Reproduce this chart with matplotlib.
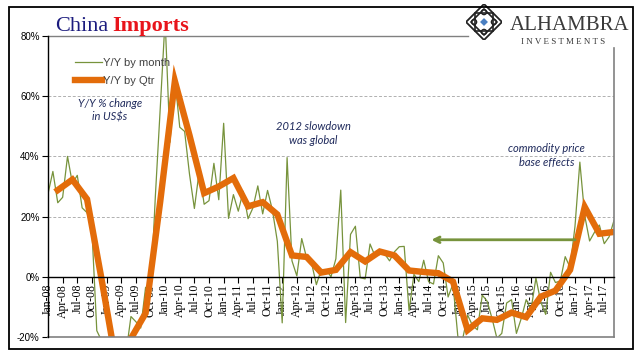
import matplotlib.pyplot as plt
import numpy as np
from matplotlib.patches import Polygon, Rectangle, Circle

# monthly Y/Y % change, Jan-08 .. Sep-17
monthly = [27.6, 35.0, 24.6, 26.4, 40.0, 31.0, 33.7, 22.9, 21.3, 15.6, -17.9, -21.3,
           -43.1, -24.1, -25.1, -23.0, -25.2, -13.2, -14.9, -17.0, -3.5, -6.4, 26.7, 55.9,
           85.5, 44.7, 66.0, 49.7, 48.3, 34.1, 22.7, 35.2, 24.1, 25.3, 37.7, 25.6,
           51.0, 19.4, 27.3, 21.8, 28.4, 19.3, 22.9, 30.2, 20.9, 28.7, 22.1, 11.8,
           -15.3, 39.6, 5.3, 0.3, 12.7, 6.3, 4.7, -2.6, 2.4, 2.4, 0.0, 6.0,
           28.8, -15.2, 14.1, 16.8, -0.3, -0.7, 10.9, 7.0, 7.4, 7.6, 5.3, 8.3,
           10.0, 10.1, -11.3, 0.8, -1.6, 5.5, -1.6, -2.4, 7.0, 4.6, -6.7, -2.4,
           -19.9, -20.5, -12.7, -16.2, -17.6, -6.1, -8.1, -13.8, -20.4, -18.8, -8.7, -7.6,
           -18.8, -13.8, -7.6, -10.9, -0.4, -8.4, -12.5, 1.5, -1.9, -1.4, 6.7, 3.1,
           16.7, 38.1, 20.3, 11.9, 14.8, 17.2, 11.0, 13.3, 18.7]

# quarterly Y/Y % change, Q1-08 .. Q3-17 (plotted at quarter-end month)
quarterly = [28.8, 32.3, 25.8, -1.0,
             -29.0, -20.5, -12.1, 25.0,
             65.0, 47.0, 27.8, 30.0,
             32.8, 23.4, 24.8, 20.7,
             7.1, 6.6, 1.4, 2.3,
             8.2, 5.1, 8.4, 7.1,
             2.1, 1.6, 1.2, -1.6,
             -17.7, -13.8, -14.3, -11.9,
             -13.4, -6.6, -4.6, 2.3,
             23.2, 14.3, 14.9]

years = ['08', '09', '10', '11', '12', '13', '14', '15', '16', '17']
qtr_months = ['Jan', 'Apr', 'Jul', 'Oct']
tick_labels = [m + '-' + y for y in years for m in qtr_months][:39]
ytick_vals = [-20, 0, 20, 40, 60, 80]
ytick_labels = ['-20%', '0%', '20%', '40%', '60%', '80%']

green = '#77933C'
orange = '#E36C0A'
navy = '#1F2A5C'

x_m = np.arange(len(monthly))
x_q = np.arange(2, len(monthly), 3)

fig = plt.figure(figsize=(6.41, 3.61), dpi=100)
ax = fig.add_axes([48 / 641, 24 / 361, 566 / 641, 301 / 361])

ax.plot(x_m, monthly, color=green, lw=0.9, label='Y/Y by month')
ax.plot(x_q, quarterly, color=orange, lw=4.6, solid_joinstyle='miter', label='Y/Y by Qtr')

ax.set_xlim(0, len(monthly) - 1)
ax.set_ylim(-20, 80)

for v in [20, 40, 60]:
    ax.axhline(v, color='#b0b0b0', lw=0.7, ls=(0, (3, 2)), zorder=0)

ax.spines['top'].set_visible(False)
ax.spines['right'].set_visible(False)
ax.spines['bottom'].set_position(('data', 0))
ax.spines['bottom'].set_linewidth(1.0)
ax.spines['left'].set_linewidth(1.0)
ax.plot([0, 1], [0, 0], transform=ax.transAxes, color='#808080', lw=1.2, clip_on=False)
ax.plot([0, 0.742], [1, 1], transform=ax.transAxes, color='#808080', lw=1.0, clip_on=False)
ax.plot([1, 1], [0, 0.96], transform=ax.transAxes, color='#808080', lw=1.2, clip_on=False)

ax.set_yticks(ytick_vals, ytick_labels, fontsize=7, fontfamily='Liberation Sans')
ax.set_xticks(np.arange(0, len(monthly), 3), tick_labels, rotation=90,
              fontsize=8.5, fontfamily='Liberation Serif')
ax.tick_params(axis='x', direction='out', length=4, width=0.8, pad=1)
ax.tick_params(axis='y', direction='out', length=4, width=0.8, pad=2)

leg = ax.legend(loc='upper left', bbox_to_anchor=(0.03, 0.96), frameon=False,
                handlelength=2.4, handletextpad=0.1, labelspacing=0.75,
                prop={'family': 'Liberation Sans', 'size': 8})
for t in leg.get_texts():
    t.set_color('#404040')

ax.text(12.7, 55.3, 'Y/Y % change\nin US$s', ha='center', va='center', fontsize=8,
        style='italic', color=navy, fontfamily='Lato', linespacing=1.3)
ax.text(54.4, 47.5, '2012 slowdown\nwas global', ha='center', va='center', fontsize=8,
        style='italic', color=navy, fontfamily='Lato', linespacing=1.3)
ax.text(102.2, 40.3, 'commodity price\nbase effects', ha='center', va='center', fontsize=8,
        style='italic', color=navy, fontfamily='Lato', linespacing=1.3)
ax.annotate('', xy=(78.0, 12.3), xytext=(108.6, 12.3),
            arrowprops=dict(arrowstyle='->', color=green, lw=2, mutation_scale=10))

# title
t1 = fig.text(55 / 641, 1 - 31 / 361, 'China', fontsize=16, color='#1B1B7E',
              fontfamily='Liberation Serif', va='baseline')
fig.canvas.draw()
bb = t1.get_window_extent()
fig.text((bb.x1 + 4) / 641, 1 - 31 / 361, 'Imports', fontsize=16, color='#E8141B',
         fontfamily='Liberation Serif', fontweight='bold', va='baseline')

# logo
fig.text(510 / 641, 1 - 30 / 361, 'ALHAMBRA', fontsize=15, color='#3a3a3a',
         fontfamily='Liberation Serif', va='baseline')
fig.text(563 / 641, 1 - 44 / 361, 'I N V E S T M E N T S', fontsize=6.5, color='#3a3a3a',
         fontfamily='Liberation Serif', va='baseline', ha='center')
lax = fig.add_axes([466 / 641, 1 - 40 / 361, 36 / 641, 36 / 361])
lax.set_xlim(-1, 1)
lax.set_ylim(-1, 1)
lax.axis('off')
lax.add_patch(Polygon([(0, 1), (1, 0), (0, -1), (-1, 0)], closed=True, fc='white', ec='#222222', lw=1.3))
lax.add_patch(Polygon([(-0.5, -0.5), (0.5, -0.5), (0.5, 0.5), (-0.5, 0.5)], closed=True, fill=False, ec='#222222', lw=1.2))
lax.add_patch(Polygon([(0, 0.72), (0.72, 0), (0, -0.72), (-0.72, 0)], closed=True, fill=False, ec='#222222', lw=1.2))
for cx, cy in [(0, 0.55), (0.55, 0), (0, -0.55), (-0.55, 0)]:
    lax.add_patch(Circle((cx, cy), 0.14, fill=False, ec='#222222', lw=1.0))
lax.add_patch(Polygon([(0, 0.22), (0.22, 0), (0, -0.22), (-0.22, 0)], closed=True, fc='#4A7FC1', ec='none'))

# outer frame
fig.add_artist(Rectangle((9 / 641, 12 / 361), 624 / 641, 342 / 361, fill=False,
                         ec='black', lw=1.3, transform=fig.transFigure))

fig.savefig('out.png', dpi=100)
